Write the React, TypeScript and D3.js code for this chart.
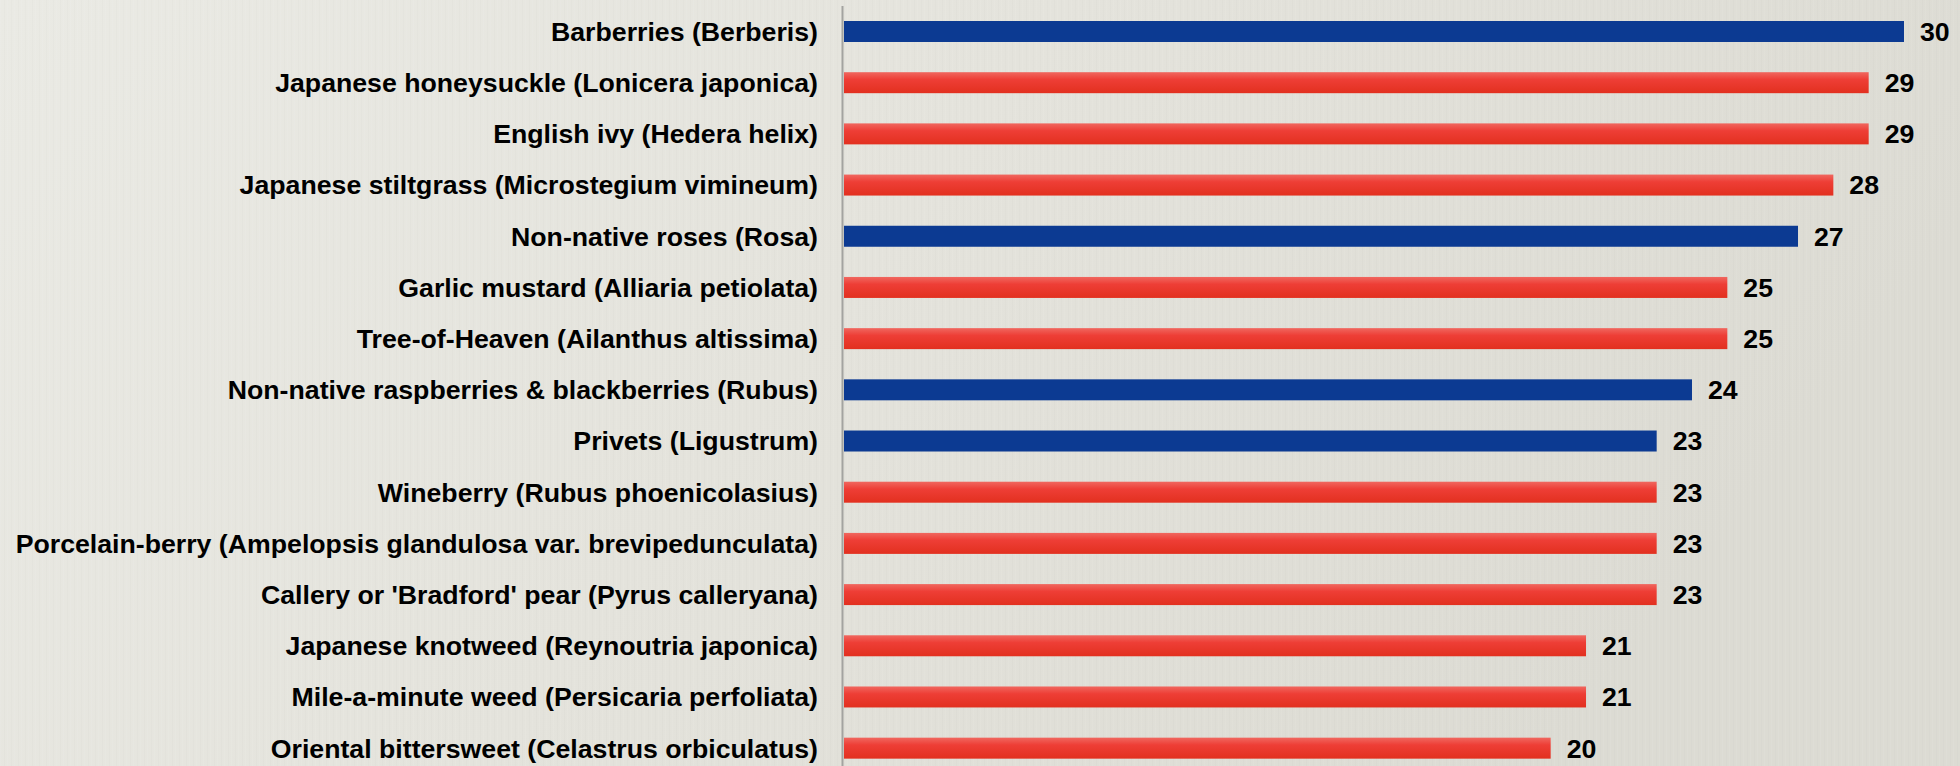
import React from "react";
import * as d3 from "d3";

const categories = [
  "Barberries (Berberis)",
  "Japanese honeysuckle (Lonicera japonica)",
  "English ivy (Hedera helix)",
  "Japanese stiltgrass (Microstegium vimineum)",
  "Non-native roses (Rosa)",
  "Garlic mustard (Alliaria petiolata)",
  "Tree-of-Heaven (Ailanthus altissima)",
  "Non-native raspberries & blackberries (Rubus)",
  "Privets (Ligustrum)",
  "Wineberry (Rubus phoenicolasius)",
  "Porcelain-berry (Ampelopsis glandulosa var. brevipedunculata)",
  "Callery or 'Bradford' pear (Pyrus calleryana)",
  "Japanese knotweed (Reynoutria japonica)",
  "Mile-a-minute weed (Persicaria perfoliata)",
  "Oriental bittersweet (Celastrus orbiculatus)",
];
const values = [30, 29, 29, 28, 27, 25, 25, 24, 23, 23, 23, 23, 21, 21, 20];
const groups = ["blue", "red", "red", "red", "blue", "red", "red", "blue", "blue", "red", "red", "red", "red", "red", "red"];

const W = 1960;
const H = 766;

export default function App() {
  const x0 = 844;
  const x = d3.scaleLinear().domain([0, 30]).range([x0, 1904]);
  const step = 51.19;
  const r0 = 5.9;
  const y = d3
    .scaleBand<string>()
    .domain(categories)
    .range([r0, r0 + categories.length * step])
    .paddingInner(0.59)
    .paddingOuter(0.295);
  const font = "'Liberation Sans', Arial, sans-serif";
  return (
    <>
      <style>{`body{margin:0}`}</style>
      <svg width={W} height={H} style={{ display: "block" }}>
        <defs>
          <linearGradient id="bg" x1="0" y1="0" x2="1" y2="0.3">
            <stop offset="0" stopColor="#EAEAE4" />
            <stop offset="0.5" stopColor="#E4E3DC" />
            <stop offset="1" stopColor="#DCDBD3" />
          </linearGradient>
          <linearGradient id="red" x1="0" y1="0" x2="0" y2="1">
            <stop offset="0" stopColor="#F0675F" />
            <stop offset="0.35" stopColor="#EE3E36" />
            <stop offset="1" stopColor="#E2301F" />
          </linearGradient>
          <pattern id="tex" width="7" height="40" patternUnits="userSpaceOnUse">
            <rect x="0" y="0" width="1" height="40" fill="#ffffff" opacity="0.06" />
            <rect x="4" y="0" width="1" height="40" fill="#000000" opacity="0.012" />
          </pattern>
        </defs>
        <rect x={0} y={0} width={W} height={H} fill="url(#bg)" />
        <rect x={0} y={0} width={W} height={H} fill="url(#tex)" />
        {categories.map((c, i) => {
          const yy = y(c)!;
          const bh = y.bandwidth();
          const cy = yy + bh / 2;
          return (
            <g key={c}>
              <rect
                x={x(0)}
                y={yy}
                width={x(values[i]) - x(0)}
                height={bh}
                fill={groups[i] === "blue" ? "#0C3A92" : "url(#red)"}
              />
              <text
                x={818}
                y={cy}
                dy="0.35em"
                textAnchor="end"
                fontFamily={font}
                fontWeight="bold"
                fontSize={26.7}
                fill="#000"
              >
                {c}
              </text>
              <text
                x={x(values[i]) + 16}
                y={cy}
                dy="0.35em"
                textAnchor="start"
                fontFamily={font}
                fontWeight="bold"
                fontSize={26.7}
                fill="#000"
              >
                {values[i]}
              </text>
            </g>
          );
        })}
        <line x1={842.5} x2={842.5} y1={6} y2={H} stroke="#A3A3A0" strokeWidth={2} />
      </svg>
    </>
  );
}
